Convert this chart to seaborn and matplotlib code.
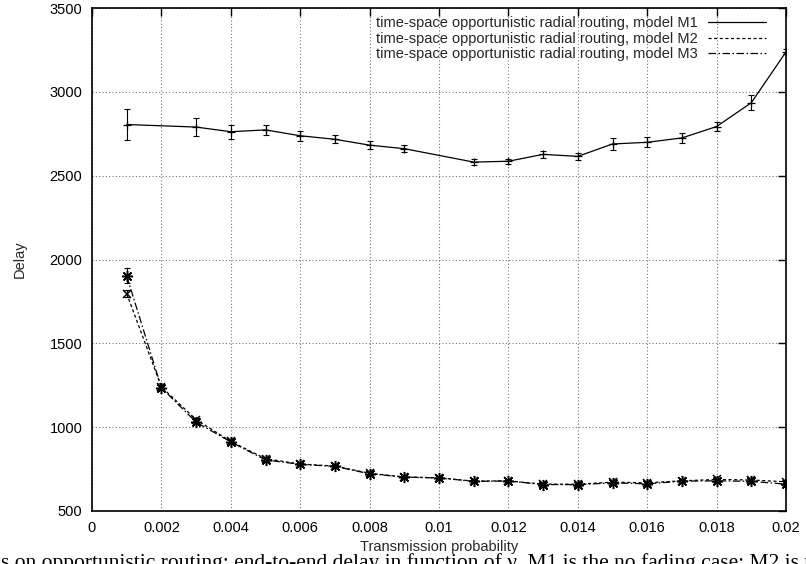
import numpy as np
import pandas as pd
import matplotlib
matplotlib.use("Agg")
import matplotlib.pyplot as plt
import seaborn as sns
from matplotlib.lines import Line2D

# Model M1 (no points at 0.002 and 0.010)
x_m1 = [0.001, 0.003, 0.004, 0.005, 0.006, 0.007, 0.008, 0.009, 0.011, 0.012,
        0.013, 0.014, 0.015, 0.016, 0.017, 0.018, 0.019, 0.020]
delay_m1 = [2805, 2790, 2762, 2773, 2738, 2717, 2682, 2661, 2581, 2586,
            2627, 2615, 2689, 2699, 2725, 2793, 2935, 3238]
err_m1 = [92, 53, 43, 30, 30, 23, 22, 20, 17, 16,
          22, 20, 36, 30, 32, 26, 45, 15]

# Models M2 and M3
x_m23 = [0.001, 0.002, 0.003, 0.004, 0.005, 0.006, 0.007, 0.008, 0.009, 0.010,
         0.011, 0.012, 0.013, 0.014, 0.015, 0.016, 0.017, 0.018, 0.019, 0.020]
delay_m2 = [1797, 1240, 1045, 915, 812, 780, 768, 725, 703, 698,
            678, 680, 660, 660, 672, 668, 680, 688, 685, 674]
err_m2 = [22, 12, 12, 10, 10, 8, 8, 8, 7, 7,
          7, 7, 7, 7, 8, 8, 8, 8, 8, 8]
delay_m3 = [1902, 1235, 1030, 912, 805, 778, 766, 722, 702, 697,
            677, 679, 658, 657, 668, 662, 678, 680, 677, 660]
err_m3 = [45, 14, 12, 10, 10, 8, 8, 8, 7, 7,
          7, 7, 7, 7, 8, 10, 8, 8, 8, 10]

labels = ["time-space opportunistic radial routing, model M1",
          "time-space opportunistic radial routing, model M2",
          "time-space opportunistic radial routing, model M3"]

caption = ("s on opportunistic routing: end-to-end delay in function of \u03bd. "
           "M1 is the no fading case; M2 is the Rayleigh fading case")

xticks = [0, 0.002, 0.004, 0.006, 0.008, 0.01, 0.012, 0.014, 0.016, 0.018, 0.02]
xticklabels = ["0", "0.002", "0.004", "0.006", "0.008", "0.01", "0.012",
               "0.014", "0.016", "0.018", "0.02"]
yticks = [500, 1000, 1500, 2000, 2500, 3000, 3500]


def main():
    sns.set_theme(style="white")
    plt.rcParams['font.family'] = ['Liberation Sans', 'DejaVu Sans']

    fig = plt.figure(figsize=(8.06, 5.64), dpi=100)
    ax = fig.add_axes([92 / 806, 1 - 511 / 564, (786 - 92) / 806, (511 - 8) / 564])

    df1 = pd.DataFrame({"x": x_m1, "delay": delay_m1})
    df2 = pd.DataFrame({"x": x_m23, "delay": delay_m2})
    df3 = pd.DataFrame({"x": x_m23, "delay": delay_m3})

    lw = 0.9
    dash2 = (0, (2.5, 2))
    dash3 = (0, (6, 2, 1.2, 2))
    sns.lineplot(data=df1, x="x", y="delay", ax=ax, color="black", lw=lw,
                 marker="+", markersize=6, mew=0.9, mec="black", estimator=None)
    sns.lineplot(data=df2, x="x", y="delay", ax=ax, color="black", lw=lw,
                 marker="x", markersize=6, mew=1.1, mec="black", estimator=None,
                 linestyle=dash2)
    sns.lineplot(data=df3, x="x", y="delay", ax=ax, color="black", lw=lw,
                 marker=(8, 2, 0), markersize=8, mew=1.1, mec="black", estimator=None,
                 linestyle=dash3)

    for xs, ys, es in [(x_m1, delay_m1, err_m1), (x_m23, delay_m2, err_m2),
                       (x_m23, delay_m3, err_m3)]:
        ax.errorbar(xs, ys, yerr=es, fmt="none", ecolor="black",
                    elinewidth=0.8, capsize=2.5, capthick=0.8)

    ax.set_xlim(0, 0.02)
    ax.set_ylim(500, 3500)
    ax.set_xticks(xticks)
    ax.set_xticklabels(xticklabels)
    ax.set_yticks(yticks)
    ax.tick_params(direction="in", length=6, width=1, top=True, right=True,
                   labelsize=10.5, colors="black", pad=7)
    ax.grid(True, color="#777777", linestyle=(0, (1, 2)), linewidth=0.8)
    for sp in ax.spines.values():
        sp.set_color("black")
        sp.set_linewidth(1.2)

    ax.set_xlabel("Transmission probability", fontsize=10.5, labelpad=4)
    ax.set_ylabel("Delay", fontsize=10.5, labelpad=16)

    handles = [
        Line2D([], [], color="black", lw=lw),
        Line2D([], [], color="black", lw=lw, linestyle=dash2),
        Line2D([], [], color="black", lw=lw, linestyle=dash3),
    ]
    ax.legend(handles, labels, loc="upper right", frameon=False, markerfirst=False,
              fontsize=10.5, handlelength=4.0, handletextpad=0.7, labelspacing=0.1,
              borderaxespad=0.0, bbox_to_anchor=(0.98, 0.995))

    fig.text(1 / 806, -4 / 564, caption, family=['Liberation Serif', 'DejaVu Serif'],
             fontsize=15.5, va="baseline", ha="left", color="black")

    fig.savefig("out.png", dpi=100)


if __name__ == "__main__":
    main()
